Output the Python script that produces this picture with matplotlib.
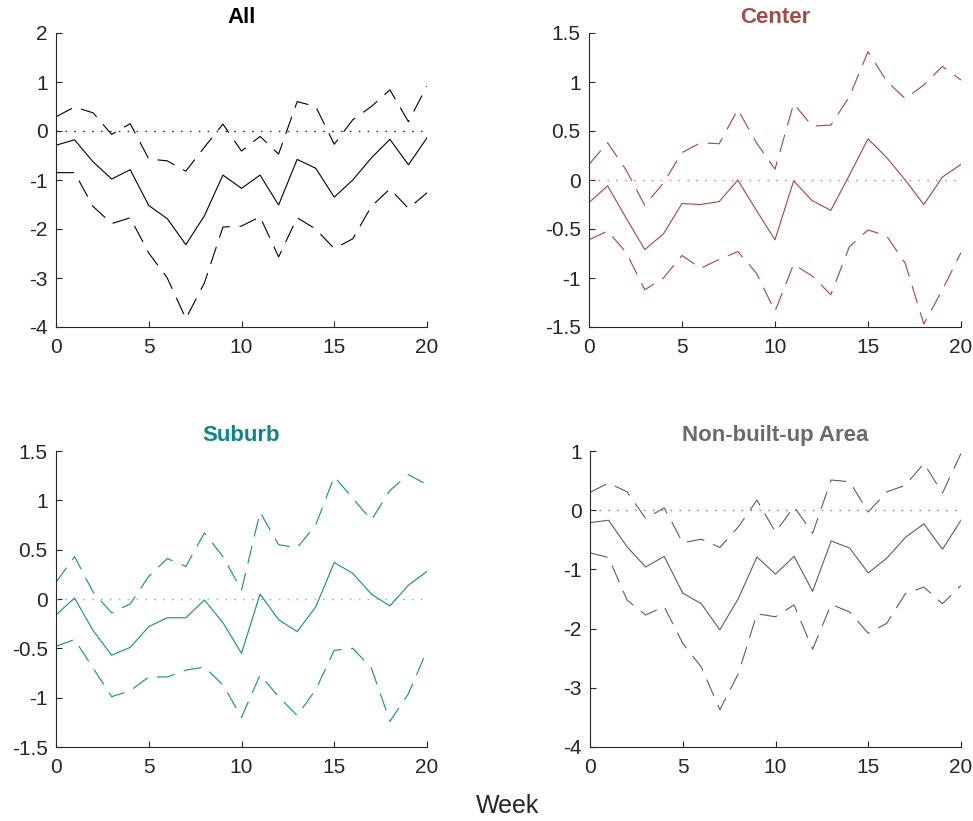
import numpy as np
import matplotlib
matplotlib.use("Agg")
import matplotlib.pyplot as plt
from matplotlib.ticker import FuncFormatter

plt.rcParams['font.family'] = ['Liberation Sans', 'DejaVu Sans']
plt.rcParams['axes.unicode_minus'] = False
plt.rcParams['lines.scale_dashes'] = False

weeks = list(range(21))

all_est = [-0.29, -0.18, -0.63, -0.98, -0.79, -1.52, -1.79, -2.32, -1.73, -0.90, -1.17,
           -0.90, -1.51, -0.58, -0.76, -1.35, -1.00, -0.55, -0.17, -0.69, -0.14]
all_hi = [0.29, 0.49, 0.37, -0.07, 0.15, -0.57, -0.61, -0.82, -0.33, 0.14, -0.41,
          -0.11, -0.47, 0.60, 0.50, -0.27, 0.23, 0.50, 0.84, 0.19, 0.92]
all_lo = [-0.85, -0.85, -1.54, -1.89, -1.77, -2.49, -3.00, -3.83, -3.10, -1.96, -1.94,
          -1.75, -2.57, -1.77, -2.00, -2.40, -2.20, -1.54, -1.18, -1.58, -1.26]

center_est = [-0.23, -0.06, -0.39, -0.71, -0.55, -0.24, -0.25, -0.22, 0.00, -0.31, -0.61,
              -0.01, -0.21, -0.31, 0.05, 0.42, 0.23, 0.00, -0.25, 0.03, 0.16]
center_hi = [0.16, 0.38, 0.10, -0.26, -0.03, 0.28, 0.38, 0.37, 0.72, 0.38, 0.11,
             0.78, 0.55, 0.56, 0.85, 1.31, 1.01, 0.83, 0.97, 1.16, 1.02]
center_lo = [-0.61, -0.52, -0.74, -1.12, -1.00, -0.77, -0.90, -0.81, -0.73, -0.95, -1.34,
             -0.86, -0.98, -1.17, -0.68, -0.51, -0.57, -0.85, -1.47, -1.12, -0.74]

suburb_est = [-0.16, 0.01, -0.32, -0.57, -0.49, -0.28, -0.19, -0.19, -0.01, -0.24, -0.55,
              0.05, -0.21, -0.33, -0.08, 0.37, 0.26, 0.05, -0.07, 0.14, 0.28]
suburb_hi = [0.17, 0.43, 0.07, -0.14, -0.05, 0.23, 0.41, 0.33, 0.67, 0.43, 0.09,
             0.88, 0.55, 0.52, 0.75, 1.24, 1.02, 0.80, 1.10, 1.26, 1.16]
suburb_lo = [-0.48, -0.41, -0.70, -0.99, -0.93, -0.79, -0.79, -0.72, -0.69, -0.87, -1.20,
             -0.77, -0.99, -1.18, -0.92, -0.52, -0.50, -0.70, -1.24, -0.96, -0.52]

nonbuilt_est = [-0.21, -0.17, -0.62, -0.96, -0.78, -1.40, -1.58, -2.02, -1.49, -0.79, -1.08,
                -0.78, -1.37, -0.52, -0.64, -1.06, -0.81, -0.46, -0.23, -0.66, -0.17]
nonbuilt_hi = [0.30, 0.46, 0.31, -0.14, 0.04, -0.55, -0.49, -0.63, -0.28, 0.17, -0.37,
               0.06, -0.39, 0.51, 0.48, -0.03, 0.31, 0.42, 0.79, 0.29, 0.96]
nonbuilt_lo = [-0.72, -0.80, -1.52, -1.77, -1.63, -2.25, -2.65, -3.37, -2.76, -1.75, -1.80,
               -1.60, -2.35, -1.59, -1.72, -2.08, -1.91, -1.41, -1.30, -1.58, -1.27]

titles = ["All", "Center", "Suburb", "Non-built-up Area"]
colors = ["#000000", "#A5463F", "#138C8C", "#5E5E5E"]
title_colors = ["#000000", "#A64A45", "#108585", "#6A6A6A"]
zero_colors = ["#333333", "#E08A82", "#7FC3C3", "#8A8A8A"]
ylims = [(-4, 2), (-1.5, 1.5), (-1.5, 1.5), (-4, 1)]
ytick_sets = [np.arange(-4, 2.01, 1), np.arange(-1.5, 1.51, 0.5),
              np.arange(-1.5, 1.51, 0.5), np.arange(-4, 1.01, 1)]
series = [(all_est, all_hi, all_lo), (center_est, center_hi, center_lo),
          (suburb_est, suburb_hi, suburb_lo), (nonbuilt_est, nonbuilt_hi, nonbuilt_lo)]

W, H = 973, 821
fig = plt.figure(figsize=(W / 100, H / 100), dpi=100)
boxes = [(56, 33, 427, 327), (589, 33, 961, 327), (56, 451, 427, 747), (590, 451, 961, 747)]

fmt = FuncFormatter(lambda v, p: ('%g' % round(v, 2)))
axis_col = "#262626"

for i, (l, t, r, b) in enumerate(boxes):
    ax = fig.add_axes([l / W, 1 - b / H, (r - l) / W, (b - t) / H])
    est, hi, lo = series[i]
    c = colors[i]
    ax.plot([0, 20], [0, 0], color=zero_colors[i], lw=1.0, linestyle=(0, (1.2, 5.2)))
    ax.plot(weeks, est, color=c, lw=0.8)
    ax.plot(weeks, hi, color=c, lw=0.8, linestyle=(0, (13, 7)))
    ax.plot(weeks, lo, color=c, lw=0.8, linestyle=(0, (13, 7)))
    ax.set_xlim(0, 20)
    ax.set_ylim(*ylims[i])
    ax.set_xticks([0, 5, 10, 15, 20])
    ax.set_yticks(ytick_sets[i])
    ax.yaxis.set_major_formatter(fmt)
    for s in ['top', 'right']:
        ax.spines[s].set_visible(False)
    for s in ['left', 'bottom']:
        ax.spines[s].set_color(axis_col)
        ax.spines[s].set_linewidth(0.8)
    ax.tick_params(direction='in', length=4, width=0.8, colors=axis_col,
                   labelsize=15, labelcolor=axis_col)
    ax.tick_params(axis='x', pad=8)
    ax.tick_params(axis='y', pad=6)
    ax.set_title(titles[i], fontsize=16, fontweight='bold', color=title_colors[i], pad=7)

fig.text(508 / W, 1 - 806 / H, "Week", ha='center', va='center', fontsize=18, color=axis_col)

fig.savefig("out.png", dpi=100)
